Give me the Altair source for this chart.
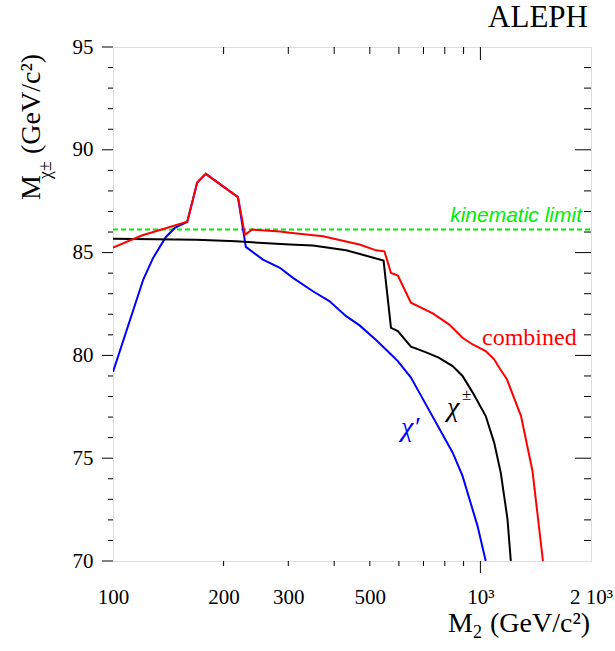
import altair as alt
import pandas as pd

# ---------------- data ----------------
red_x = [100, 119.7, 139.9, 159.3, 169.5, 178.9, 218.8, 228.6, 239, 284.6, 302.9,
         372.9, 449, 469, 520, 548, 571, 596, 647, 742, 823, 894, 953, 1034,
         1090, 1130, 1180, 1290, 1386, 1480]
red_y = [85.25, 85.83, 86.2, 86.5, 88.41, 88.83, 87.70, 85.87, 86.12, 86.03, 85.97,
         85.79, 85.47, 85.39, 85.11, 85.06, 84.01, 83.88, 82.56, 82.04, 81.5, 80.86, 80.53, 80.21,
         79.81, 79.35, 78.85, 77.05, 74.38, 70.0]

black_x = [100, 168.7, 216, 256, 303, 350, 431, 489, 545, 571, 596, 647, 709, 770,
           840, 894, 953, 1034, 1090, 1136, 1185, 1210]
black_y = [85.67, 85.63, 85.55, 85.47, 85.39, 85.34, 85.11, 84.85, 84.61, 81.34, 81.18, 80.42, 80.16, 79.89,
           79.48, 79.0, 78.19, 77.05, 75.76, 74.3, 72.04, 70.0]

blue_x = [100, 120.9, 128.6, 139.3, 147.4, 159.3, 169.5, 178.9, 218.8, 229.9, 256, 284.6,
          309, 350, 388, 431, 469, 520, 565, 596, 647, 682, 840, 894, 982, 1034]
blue_y = [79.2, 83.69, 84.74, 85.76, 86.2, 86.5, 88.41, 88.83, 87.70, 85.28, 84.66, 84.26,
          83.77, 83.12, 82.64, 81.91, 81.46, 80.75, 80.13, 79.72, 78.92, 78.19, 75.28, 74.14, 71.71, 70.0]

kin_limit = [86.12]

x_label_values = [100, 200, 300, 500, 1000, 2000]
x_minor_ticks = [200, 300, 400, 500, 600, 700, 800, 900]
x_major_ticks = [1000]
y_label_values = [70, 75, 80, 85, 90, 95]
y_minor_ticks = [v for v in range(71, 95) if v % 5 != 0]
y_major_ticks = [70, 75, 80, 85, 90, 95]
y_major_inner = [75, 80, 85, 90]

W, H = 478, 514
SERIF = "Liberation Serif"
SANS = "Liberation Sans"

xscale = alt.Scale(type="log", domain=[100, 2000], nice=False)
yscale = alt.Scale(domain=[70, 95], nice=False, zero=False)

x_axis = alt.Axis(values=x_label_values, ticks=False, tickSize=0, domain=False, grid=False,
                  labelFlush=False, labelOverlap=False, labelFont=SERIF, labelFontSize=21,
                  labelColor="black", labelPadding=25, title=None,
                  labelExpr="datum.value == 1000 ? '10³' : datum.value == 2000 ? '2 10³' : datum.label")
y_axis = alt.Axis(values=y_label_values, ticks=False, tickSize=0, domain=False, grid=False,
                  labelFlush=False, labelOverlap=False, labelFont=SERIF, labelFontSize=21,
                  labelColor="black", labelPadding=20, title=None, format="d")

x_enc = alt.X("m2:Q", scale=xscale, axis=x_axis)
y_enc = alt.Y("mchi:Q", scale=yscale, axis=y_axis)


def curve(xs, ys, color):
    df = pd.DataFrame({"m2": xs, "mchi": ys, "i": list(range(len(xs)))})
    return alt.Chart(df).mark_line(color=color, strokeWidth=2, clip=True).encode(
        x=x_enc, y=y_enc, order="i:Q")


green = alt.Chart(pd.DataFrame({"mchi": kin_limit})).mark_rule(
    color="#00ee00", strokeWidth=2, strokeDash=[5, 3]).encode(
    y=y_enc, x=alt.value(0), x2=alt.value(W))

blue = curve(blue_x, blue_y, "#0000ff")
black = curve(black_x, black_y, "black")
red = curve(red_x, red_y, "#ff0000")


def xticks(vals, y0, y1):
    return alt.Chart(pd.DataFrame({"m2": vals})).mark_rule(color="black", strokeWidth=1).encode(
        x=x_enc, y=alt.value(y0), y2=alt.value(y1))


def yticks(vals, x0, x1):
    return alt.Chart(pd.DataFrame({"mchi": vals})).mark_rule(color="black", strokeWidth=1).encode(
        y=y_enc, x=alt.value(x0), x2=alt.value(x1))


tick_layers = [
    xticks(x_minor_ticks, H, H + 5),
    xticks(x_major_ticks, H, H + 12),
    xticks(x_minor_ticks, 0, 7),
    xticks(x_major_ticks, 0, 13),
    yticks(y_minor_ticks, 0, -5),
    yticks(y_major_ticks, 0, -11),
    yticks(y_minor_ticks, W, W - 7),
    yticks(y_major_inner, W, W - 16),
]

one = pd.DataFrame({"a": [0]})


def label(text, x, y, size, color="black", font=SERIF, align="left", style="normal", angle=0, baseline="alphabetic"):
    kw = dict(text=text, font=font, fontSize=size, color=color, align=align,
              baseline=baseline, fontStyle=style)
    if angle:
        kw["angle"] = angle
    return alt.Chart(one).mark_text(**kw).encode(x=alt.value(x), y=alt.value(y))


texts = [
    label("ALEPH", 475, -20, 31, align="right"),
    label("kinematic limit", 469, 175, 21, color="#00ee00", font=SANS, align="right", style="italic"),
    label("combined", 369, 298, 24, color="#ff0000"),
    label("χ", 334, 369, 28, style="italic"),
    label("±", 349, 353, 17),
    label("χ′", 288, 389, 28, color="#0000ff", style="italic"),
    # x title
    label("M", 335, 585, 28),
    label("2", 360, 591, 18),
    label("(GeV/c²)", 377, 585, 28),
    # y title (rotated)
    label("M", -73, 153, 28, angle=270),
    label("χ±", -62, 132, 18, angle=270),
    label("(GeV/c²)", -73, 107, 28, angle=270),
]

chart = alt.layer(green, blue, black, red, *tick_layers, *texts).properties(
    width=W, height=H,
    autosize=alt.AutoSizeParams(type="none"),
    padding={"left": 113, "top": 47, "right": 24, "bottom": 90},
).configure_view(stroke="black", strokeWidth=2).configure(background="white")

chart.save("out.html", embed_options={"renderer": "svg", "actions": False})
